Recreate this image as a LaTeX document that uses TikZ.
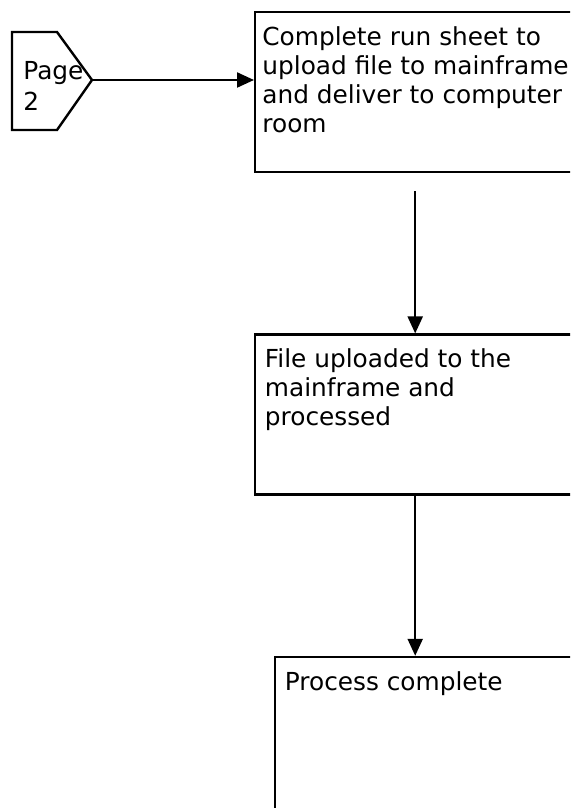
\documentclass[tikz,border=0pt]{standalone}
\usepackage{fontspec}
\setmainfont{DejaVu Sans}
\usepackage{tikz}
\usetikzlibrary{arrows.meta,positioning}

\begin{document}
\begin{tikzpicture}[x=0.5pt,y=-0.5pt,
  font=\fontsize{12.4}{14.5}\selectfont,
  ln/.style={draw,line width=1.2pt},
  box/.style={ln,rectangle,inner sep=0pt,minimum width=160pt,minimum height=80pt,anchor=north west},
  txt/.style={inner sep=0pt,align=left,anchor=north west,yshift=-7.5pt},
  arr/.style={-{Triangle[length=8.5pt,width=7.5pt]},line width=1.1pt}]
\path[use as bounding box,clip] (0,0) rectangle (570,808);
% off-page connector
\coordinate (pgtip) at (92,80);
\draw[ln] (12,32) -- (57,32) -- (pgtip) -- (57,130) -- (12,130) -- cycle;
\node[txt,yshift=0pt,font=\fontsize{12.4}{15.5}\selectfont] (pg) at (23,46) {Page\\2};
% process boxes
\node[box,label={[txt,xshift=4pt]north west:Complete run sheet to\\upload file to mainframe\\and deliver to computer\\room}] (run) at (254,11) {};
\node[box,below=80pt of run.south west,anchor=north west,
  label={[txt,xshift=5.25pt]north west:File uploaded to the\\mainframe and\\processed}] (upl) {};
\node[box,below=80pt of upl.south west,anchor=north west,xshift=10pt,
  label={[txt,xshift=5.25pt]north west:Process complete}] (fin) {};
% connectors
\draw[arr] (pgtip) -- (pgtip -| run.west);
\draw[arr,shorten <=9pt] (run.south) -- (run.south |- upl.north);
\draw[arr] (upl.south) -- (upl.south |- fin.north);
\end{tikzpicture}
\end{document}
